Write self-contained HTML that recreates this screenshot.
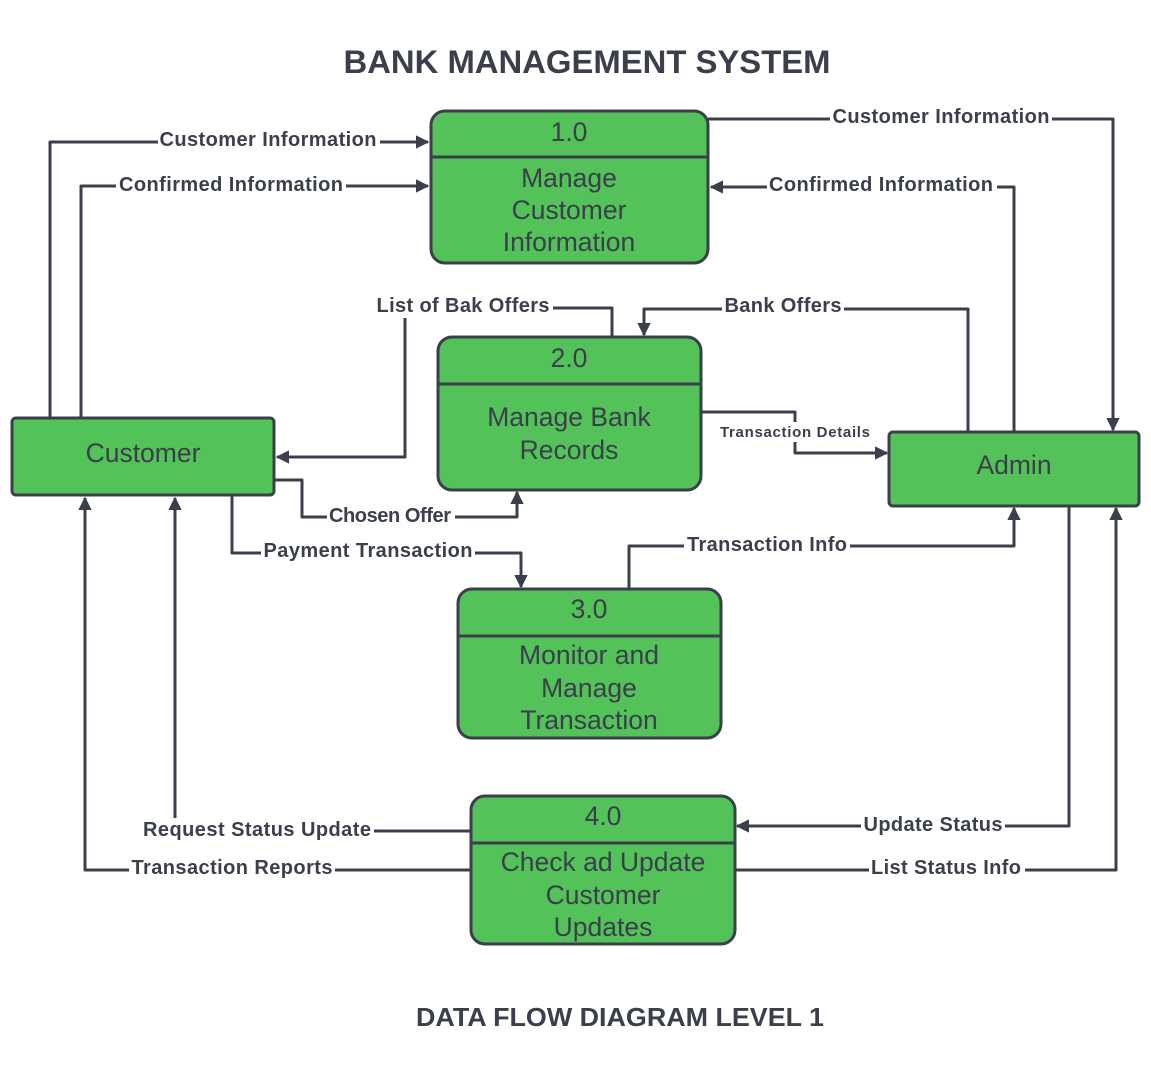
<!DOCTYPE html>
<html><head><style>body{margin:0;background:#fff}svg{display:block}</style></head><body>
<svg width="1151" height="1080" viewBox="0 0 1151 1080" xmlns="http://www.w3.org/2000/svg" font-family="Liberation Sans, sans-serif">
<defs><marker id="a" viewBox="0 0 10 10" refX="9" refY="5" markerWidth="4.5" markerHeight="4.5" orient="auto"><path d="M0,0L10,5L0,10z" fill="#3a3f4b"/></marker></defs>
<rect width="1151" height="1080" fill="#fff"/>
<text x="587" y="73" text-anchor="middle" font-size="32" font-weight="bold" fill="#3a3f4b" textLength="487" lengthAdjust="spacingAndGlyphs">BANK MANAGEMENT SYSTEM</text>
<text x="620" y="1026" text-anchor="middle" font-size="26" font-weight="bold" fill="#3a3f4b" textLength="408" lengthAdjust="spacingAndGlyphs">DATA FLOW DIAGRAM LEVEL 1</text>
<g fill="none" stroke="#3a3f4b" stroke-width="3" stroke-linejoin="round" marker-end="url(#a)">
<path d="M50,418V142H428"/>
<path d="M81,418V186H428"/>
<path d="M708,119H1113V430"/>
<path d="M1014,432V187H711"/>
<path d="M612,337V308H405V457H277"/>
<path d="M968,432V309H644V335"/>
<path d="M701,412H795V453H887"/>
<path d="M274,480H302V517H517V492"/>
<path d="M232,495V553H521V587"/>
<path d="M629,589V546H1014V508"/>
<path d="M1069,506V826H737"/>
<path d="M735,870H1116V508"/>
<path d="M471,831H175V498"/>
<path d="M471,870H85V498"/>
</g>
<g fill="#53c259" stroke="#3a3f4b" stroke-width="3">
<rect x="431" y="111" width="277" height="152" rx="14"/><path d="M431,157H708"/>
<rect x="438" y="337" width="263" height="153" rx="14"/><path d="M438,384H701"/>
<rect x="458" y="589" width="263" height="149" rx="14"/><path d="M458,636H721"/>
<rect x="471" y="796" width="264" height="148" rx="14"/><path d="M471,843H735"/>
<rect x="12" y="418" width="262" height="77" rx="4"/>
<rect x="889" y="432" width="250" height="74" rx="4"/>
</g>
<g font-size="26.5" fill="#3a3f4b" text-anchor="middle">
<text x="569" y="141">1.0</text><text x="569" y="187">Manage</text><text x="569" y="219">Customer</text><text x="569" y="251">Information</text>
<text x="569" y="367">2.0</text><text x="569" y="426">Manage Bank</text><text x="569" y="459">Records</text>
<text x="589" y="618">3.0</text><text x="589" y="664">Monitor and</text><text x="589" y="697">Manage</text><text x="589" y="729">Transaction</text>
<text x="603" y="825">4.0</text><text x="603" y="871">Check ad Update</text><text x="603" y="904">Customer</text><text x="603" y="936">Updates</text>
<text x="143" y="462">Customer</text><text x="1014" y="474">Admin</text>
</g>
<g fill="#fff">
<rect x="158" y="128" width="222" height="24"/>
<rect x="116" y="172" width="230" height="24"/>
<rect x="830" y="105" width="222" height="24"/>
<rect x="767" y="172" width="230" height="24"/>
<rect x="375" y="294" width="178" height="24"/>
<rect x="722" y="294" width="122" height="24"/>
<rect x="716" y="422" width="158" height="20"/>
<rect x="327" y="504" width="128" height="24"/>
<rect x="261" y="539" width="214" height="24"/>
<rect x="684" y="533" width="166" height="24"/>
<rect x="861" y="813" width="144" height="24"/>
<rect x="869" y="856" width="156" height="24"/>
<rect x="141" y="818" width="233" height="24"/>
<rect x="129" y="856" width="206" height="24"/>
</g>
<g font-size="20" font-weight="bold" fill="#3a3f4b" text-anchor="middle" lengthAdjust="spacingAndGlyphs">
<text x="268" y="146" textLength="217">Customer Information</text>
<text x="231" y="191" textLength="224">Confirmed Information</text>
<text x="941" y="123" textLength="217">Customer Information</text>
<text x="881" y="191" textLength="224">Confirmed Information</text>
<text x="463" y="312" textLength="173">List of Bak Offers</text>
<text x="783" y="312" textLength="117">Bank Offers</text>
<text x="795" y="437" font-size="15" textLength="150">Transaction Details</text>
<text x="390" y="522" textLength="122">Chosen Offer</text>
<text x="368" y="557" textLength="209">Payment Transaction</text>
<text x="767" y="551" textLength="160">Transaction Info</text>
<text x="933" y="831" textLength="139">Update Status</text>
<text x="946" y="874" textLength="150">List Status Info</text>
<text x="257" y="836" textLength="228">Request Status Update</text>
<text x="232" y="874" textLength="201">Transaction Reports</text>
</g>
</svg>
</body></html>
